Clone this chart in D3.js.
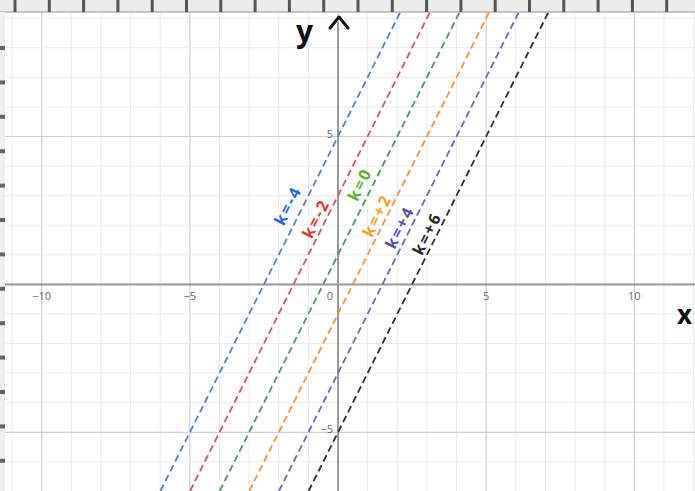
<!DOCTYPE html>
<html>
<head>
<meta charset="utf-8">
<script src="https://cdn.jsdelivr.net/npm/d3@7"></script>
<style>
	html, body { margin: 0; padding: 0; background: #fff; }
	svg { display: block; font-family: 'Open Sans', 'DejaVu Sans', sans-serif; }
	.minor { stroke: #ebebeb; stroke-width: 1; }
	.major { stroke: #cfcfcf; stroke-width: 1.2; }
	.axis-line { stroke: #9a9a9a; stroke-width: 2; }
	.tick-label { fill: #6a6a6a; font-size: 11px; }
	.k-label { font-weight: bold; font-size: 16px; letter-spacing: 2px; }
</style>
</head>
<body>
<div id="chart"></div>
<script>
// family of lines y = 2x + b, one per k
const kValues = ['k=-4', 'k=-2', 'k=0', 'k=+2', 'k=+4', 'k=+6'];
const slope = 2;
const intercepts = [5, 3, 1, -1, -3, -5];
const lineColors = ['#4a86c8', '#d05a5c', '#4b9a5c', '#f5923a', '#7462c4', '#2e2e2e'];
const labelColors = ['#2266e0', '#e8332c', '#5cb32e', '#f5a11e', '#5652b0', '#262626'];
// where the hand-written labels sit (data units)
const labelX = [-1.69, -0.74, 0.74, 1.32, 2.09, 3.01];
const labelY = [2.67, 2.23, 3.38, 2.33, 1.93, 1.72];

const xTicks = [-10, -5, 0, 5, 10];
const yTicks = [-5, 5];

const W = 695, H = 491;
const bandH = 12;

const svg = d3.select('#chart')
	.append('svg')
	.attr('width', W)
	.attr('height', H);

const x = d3.scaleLinear().domain([-10, 10]).range([41.7, 634.3]);
const y = d3.scaleLinear().domain([-5, 5]).range([432.3, 136.5]);

const xMin = Math.floor(x.invert(0)), xMax = Math.ceil(x.invert(W));
const yMin = Math.floor(y.invert(H)), yMax = Math.ceil(y.invert(bandH));

svg.append('defs')
	.append('clipPath')
	.attr('id', 'clip')
	.append('rect')
	.attr('x', 0)
	.attr('y', bandH)
	.attr('width', W)
	.attr('height', H - bandH);

const grid = svg.append('g').attr('clip-path', 'url(#clip)');

// unit grid, darker every 5
grid.append('g')
	.selectAll('line')
	.data(d3.range(xMin, xMax + 1))
	.enter()
	.append('line')
	.attr('class', d => (d % 5 === 0 ? 'major' : 'minor'))
	.attr('x1', d => x(d))
	.attr('x2', d => x(d))
	.attr('y1', bandH)
	.attr('y2', H);

grid.append('g')
	.selectAll('line')
	.data(d3.range(yMin, yMax + 1))
	.enter()
	.append('line')
	.attr('class', d => (d % 5 === 0 ? 'major' : 'minor'))
	.attr('x1', 0)
	.attr('x2', W)
	.attr('y1', d => y(d))
	.attr('y2', d => y(d));

// axes
grid.append('line')
	.attr('class', 'axis-line')
	.attr('x1', 0)
	.attr('x2', W)
	.attr('y1', y(0))
	.attr('y2', y(0));

grid.append('line')
	.attr('class', 'axis-line')
	.attr('x1', x(0))
	.attr('x2', x(0))
	.attr('y1', bandH + 10)
	.attr('y2', H);

// tick labels
svg.append('g')
	.selectAll('text')
	.data(xTicks)
	.enter()
	.append('text')
	.attr('class', 'tick-label')
	.attr('x', d => (d === 0 ? x(d) - 5 : x(d)))
	.attr('y', y(0) + 16)
	.attr('text-anchor', d => (d === 0 ? 'end' : 'middle'))
	.text(d => (d < 0 ? '\u2212' + Math.abs(d) : d));

svg.append('g')
	.selectAll('text')
	.data(yTicks)
	.enter()
	.append('text')
	.attr('class', 'tick-label')
	.attr('x', x(0) - 5)
	.attr('y', d => y(d))
	.attr('dy', '0.1em')
	.attr('text-anchor', 'end')
	.text(d => (d < 0 ? '\u2212' + Math.abs(d) : d));

// dashed lines
const yTop = y.invert(bandH), yBot = y.invert(H);
const lineGen = d3.line().x(d => x(d[0])).y(d => y(d[1]));

grid.append('g')
	.selectAll('path')
	.data(intercepts)
	.enter()
	.append('path')
	.attr('d', b => lineGen([[(yBot - b) / slope, yBot], [(yTop - b) / slope, yTop]]))
	.attr('fill', 'none')
	.attr('stroke', (b, i) => lineColors[i])
	.attr('stroke-width', 1.8)
	.attr('stroke-dasharray', '7,4');

// labels rotated along the lines
const angle = Math.atan2(y(slope) - y(0), x(1) - x(0)) * 180 / Math.PI;

svg.append('g')
	.selectAll('text')
	.data(kValues)
	.enter()
	.append('text')
	.attr('class', 'k-label')
	.attr('text-anchor', 'middle')
	.attr('dy', '0.35em')
	.attr('transform', (d, i) => 'translate(' + [x(labelX[i]), y(labelY[i])] + ') rotate(' + angle + ')')
	.attr('fill', (d, i) => labelColors[i])
	.text(d => d);

// hand-drawn axis names
svg.append('text')
	.attr('x', x(0) - 42)
	.attr('y', bandH + 30)
	.attr('font-size', 30)
	.attr('font-weight', 'bold')
	.attr('fill', '#111')
	.text('y');

svg.append('path')
	.attr('d', 'M' + [x(0) - 8, bandH + 16] + 'L' + [x(0) + 1, bandH + 5] + 'L' + [x(0) + 10, bandH + 16])
	.attr('fill', 'none')
	.attr('stroke', '#111')
	.attr('stroke-width', 3)
	.attr('stroke-linecap', 'round')
	.attr('stroke-linejoin', 'round');

svg.append('text')
	.attr('x', W - 3)
	.attr('y', y(0) + 40)
	.attr('text-anchor', 'end')
	.attr('font-size', 26)
	.attr('font-weight', 'bold')
	.attr('fill', '#111')
	.text('x');

// ruler strip along the top and left edge of the photo
svg.append('rect')
	.attr('x', 0)
	.attr('y', 0)
	.attr('width', W)
	.attr('height', bandH)
	.attr('fill', '#ececec');

svg.append('line')
	.attr('x1', 0)
	.attr('x2', W)
	.attr('y1', bandH)
	.attr('y2', bandH)
	.attr('stroke', '#b5b5b5')
	.attr('stroke-width', 1.5);

svg.append('g')
	.selectAll('rect')
	.data(d3.range(15, W, 34.3))
	.enter()
	.append('rect')
	.attr('x', d => d - 1.5)
	.attr('y', 0)
	.attr('width', 3)
	.attr('height', bandH)
	.attr('fill', '#555');

svg.append('rect')
	.attr('x', 0)
	.attr('y', bandH)
	.attr('width', 5)
	.attr('height', H - bandH)
	.attr('fill', '#efefef');

svg.append('g')
	.selectAll('rect')
	.data(d3.range(48, H, 34.4))
	.enter()
	.append('rect')
	.attr('x', 0)
	.attr('y', d => d - 2)
	.attr('width', 5)
	.attr('height', 4)
	.attr('fill', '#666');
</script>
</body>
</html>
